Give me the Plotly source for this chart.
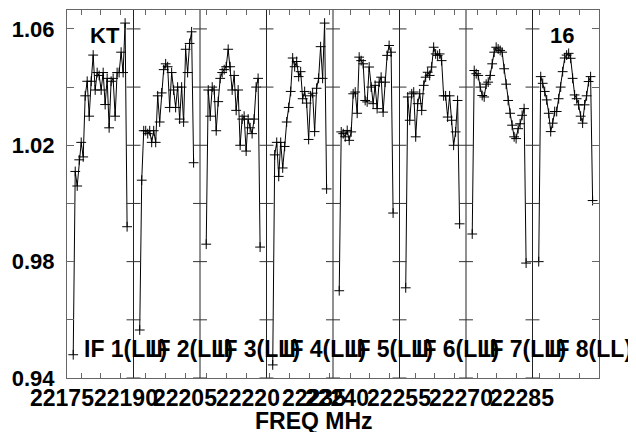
import plotly.graph_objects as go

# bandpass amplitude per IF, 28 channels each (edge channels included)
IF1 = [0.948, 1.011, 1.006, 1.015, 1.021, 1.016, 1.037, 1.042, 1.030, 1.042, 1.051, 1.039, 1.045, 1.044,
       1.039, 1.045, 1.034, 1.043, 1.026, 1.042, 1.043, 1.030, 1.045, 1.045, 1.052, 1.045, 1.062, 0.992]
IF2 = [0.9565, 1.008, 1.025, 1.025, 1.024, 1.025, 1.021, 1.025, 1.021, 1.037, 1.028, 1.038, 1.046, 1.048,
       1.047, 1.033, 1.045, 1.039, 1.033, 1.040, 1.029, 1.040, 1.028, 1.053, 1.045, 1.055, 1.059, 1.014]
IF3 = [0.986, 1.039, 1.030, 1.040, 1.039, 1.025, 1.035, 1.043, 1.045, 1.046, 1.047, 1.053, 1.047, 1.039,
       1.044, 1.032, 1.039, 1.020, 1.029, 1.030, 1.018, 1.029, 1.026, 1.024, 1.029, 1.040, 1.043, 0.985]
IF4 = [0.9445, 1.0167, 1.021, 1.0093, 1.021, 1.0122, 1.0196, 1.028, 1.033, 1.0385, 1.050, 1.047, 1.0488, 1.0436,
       1.0453, 1.036, 1.0385, 1.0345, 1.022, 1.037, 1.0379, 1.0247, 1.0396, 1.043, 1.0539, 1.043, 1.062, 1.005]
IF5 = [0.970, 1.0246, 1.024, 1.0229, 1.0251, 1.0217, 1.0246, 1.0377, 1.0383, 1.031, 1.0503, 1.0491, 1.048, 1.0354,
       1.0349, 1.0469, 1.040, 1.0343, 1.0406, 1.0326, 1.0417, 1.0434, 1.0314, 1.0417, 1.0509, 1.0543, 1.052, 0.9967]
IF6 = [0.971, 1.0366, 1.0286, 1.0377, 1.0383, 1.0229, 1.0343, 1.0377, 1.032, 1.0406, 1.0434, 1.0451, 1.044, 1.0469,
       1.0537, 1.0514, 1.0509, 1.0514, 1.0491, 1.037, 1.037, 1.0297, 1.037, 1.0286, 1.020, 1.0246, 1.0354, 0.993]
IF7 = [0.9895, 1.0457, 1.0446, 1.044, 1.040, 1.0371, 1.0366, 1.041, 1.0417, 1.044, 1.048, 1.052, 1.0537, 1.0531,
       1.0526, 1.052, 1.0463, 1.041, 1.0354, 1.031, 1.0269, 1.0229, 1.0223, 1.0257, 1.0274, 1.0303, 1.0326, 0.9795]
IF8 = [0.980, 1.0436, 1.0413, 1.0385, 1.0356, 1.031, 1.0247, 1.0276, 1.0316, 1.0316, 1.036, 1.040, 1.0453, 1.050,
       1.051, 1.0516, 1.0499, 1.043, 1.0373, 1.036, 1.0339, 1.030, 1.0276, 1.0339, 1.037, 1.0419, 1.0436, 1.001]
BANDPASS = [IF1, IF2, IF3, IF4, IF5, IF6, IF7, IF8]
IF_NAMES = ['IF 1(LL)', 'IF 2(LL)', 'IF 3(LL)', 'IF 4(LL)', 'IF 5(LL)', 'IF 6(LL)', 'IF 7(LL)', 'IF 8(LL)']

# frequency labels along the bottom (MHz) and where they fall on the IF axis
FREQ_LABELS = ['22175', '22190', '22205', '22220', '22235', '22240', '22255', '22270', '22285']
FREQ_POS = [-1.2, 14.2, 28.5, 43.5, 59.4, 65.0, 79.9, 94.8, 109.5]
# first 5 MHz tick inside each IF
TICK_START = [3.37, 3.0, 1.68, 0.84, 4.09, 3.73, 2.65, 1.8]
TICK_STEP = 4.8

IF_WIDTH = 16.0
CHAN_START = 1.5
CHAN_STEP = 0.48
YMIN, YMAX = 0.94, 1.0665
FONT = dict(family='Liberation Sans, Arial, sans-serif', size=22, color='black', weight='bold')

fig = go.Figure()
for k, amps in enumerate(BANDPASS):
    x = [k * IF_WIDTH + CHAN_START + CHAN_STEP * c for c in range(len(amps))]
    fig.add_trace(go.Scatter(x=x, y=amps, mode='lines+markers',
                             line=dict(color='black', width=1),
                             marker=dict(symbol='cross-thin', size=7,
                                         line=dict(color='black', width=1)),
                             showlegend=False, hoverinfo='skip'))

xmax = len(BANDPASS) * IF_WIDTH
yticks = [0.94, 0.96, 0.98, 1.00, 1.02, 1.04, 1.06]
shapes = []
for k in range(1, len(BANDPASS)):
    xs = k * IF_WIDTH
    shapes.append(dict(type='line', xref='x', yref='paper', x0=xs, x1=xs, y0=0, y1=1,
                       line=dict(color='#222', width=1)))
    for yv in yticks:
        shapes.append(dict(type='line', xref='x', yref='y', x0=xs - 1.68, x1=xs + 1.68,
                           y0=yv, y1=yv, line=dict(color='#333', width=1)))

xticks = []
for k, t0 in enumerate(TICK_START):
    t = t0
    while t < IF_WIDTH:
        xticks.append(k * IF_WIDTH + t)
        t += TICK_STEP

annotations = []
for name, pos in zip(FREQ_LABELS, FREQ_POS):
    annotations.append(dict(x=pos / xmax, y=-0.055, xref='paper', yref='paper', text=name,
                            showarrow=False, xanchor='center', yanchor='middle',
                            font=dict(FONT, size=23)))
for k, name in enumerate(IF_NAMES):
    annotations.append(dict(x=k * IF_WIDTH + 3.5, y=0.9498, xref='x', yref='y', text=name,
                            showarrow=False, xanchor='left', yanchor='middle',
                            font=dict(FONT, size=23)))
annotations.append(dict(x=59.4 / xmax, y=-0.117, xref='paper', yref='paper', text='FREQ MHz',
                        showarrow=False, xanchor='center', yanchor='middle',
                        font=dict(FONT, size=23)))
annotations.append(dict(x=9.2, y=0.932, xref='x', yref='paper', text='KT',
                        showarrow=False, xanchor='center', yanchor='middle', font=FONT))
annotations.append(dict(x=119.0, y=0.932, xref='x', yref='paper', text='16',
                        showarrow=False, xanchor='center', yanchor='middle', font=FONT))

# page body keeps its default 8px margin, so the figure is trimmed by that much
fig.update_layout(width=628, height=424, margin=dict(l=59, r=37, t=2, b=54),
                  paper_bgcolor='white', plot_bgcolor='white', showlegend=False,
                  font=FONT, shapes=shapes, annotations=annotations)
fig.update_xaxes(range=[0, xmax], showgrid=False, zeroline=False,
                 showline=True, linecolor='#666', linewidth=1, mirror='ticks',
                 ticks='inside', ticklen=5, tickcolor='#666', tickvals=xticks,
                 showticklabels=False)
fig.update_yaxes(range=[YMIN, YMAX], showgrid=False, zeroline=False,
                 showline=True, linecolor='#666', linewidth=1, mirror='ticks',
                 ticks='inside', ticklen=7, tickcolor='#666', tickvals=yticks,
                 ticktext=['0.94', '', '0.98', '', '1.02', '', '1.06'],
                 ticklabelstandoff=7, tickfont=FONT)

fig.write_html("out.html")
